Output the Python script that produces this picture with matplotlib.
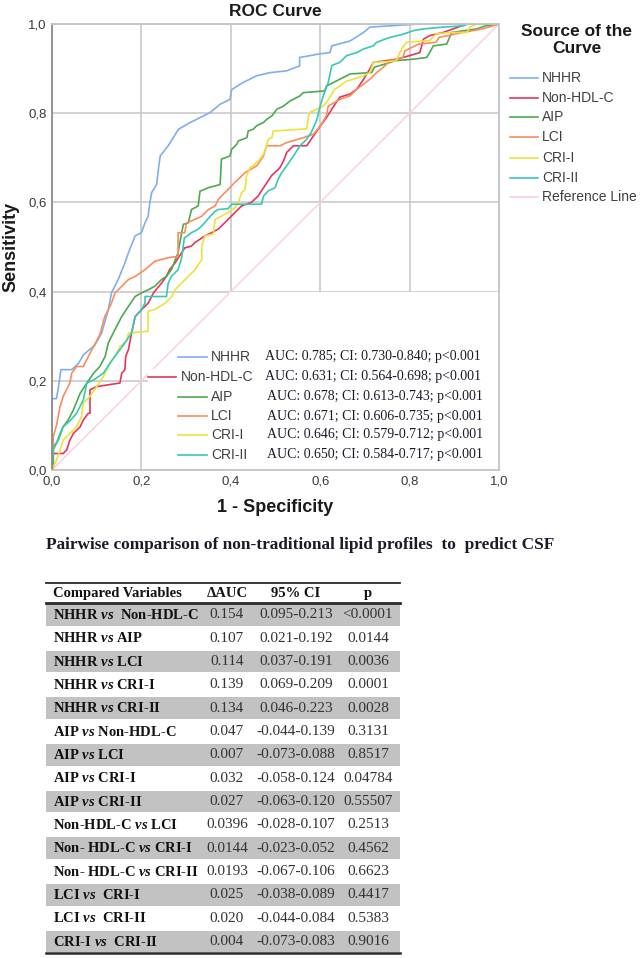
import matplotlib
matplotlib.use("Agg")
import matplotlib.pyplot as plt
from matplotlib.patches import Rectangle

plt.rcParams["font.family"] = ["Liberation Sans", "DejaVu Sans"]
plt.rcParams["mathtext.fontset"] = "custom"
plt.rcParams["mathtext.rm"] = "Liberation Serif:bold"
plt.rcParams["mathtext.bfit"] = "Liberation Serif:italic:bold"
plt.rcParams["mathtext.it"] = "Liberation Serif:italic:bold"

# ---- ROC curves (1 - specificity, sensitivity) ----
NHHR_X = [0, 0, 0.01, 0.015, 0.02, 0.044, 0.06, 0.07, 0.09, 0.096, 0.111, 0.126, 0.133, 0.148,
          0.163, 0.171, 0.186, 0.2, 0.208, 0.215, 0.219, 0.223, 0.234, 0.238, 0.242, 0.26, 0.283,
          0.309, 0.331, 0.353, 0.376, 0.398, 0.402, 0.428, 0.458, 0.488, 0.525, 0.554, 0.554,
          0.599, 0.622, 0.626, 0.667, 0.697, 0.711, 0.82, 1.0]
NHHR_Y = [0, 0.16, 0.16, 0.19, 0.225, 0.225, 0.24, 0.258, 0.275, 0.28, 0.307, 0.359, 0.397, 0.427,
          0.464, 0.487, 0.525, 0.532, 0.554, 0.569, 0.6, 0.622, 0.64, 0.674, 0.704, 0.727, 0.764,
          0.779, 0.79, 0.801, 0.82, 0.831, 0.853, 0.869, 0.884, 0.891, 0.895, 0.906, 0.925,
          0.933, 0.936, 0.951, 0.962, 0.981, 0.993, 1.0, 1.0]

NONHDL_X = [0, 0, 0.025, 0.033, 0.04, 0.048, 0.063, 0.07, 0.081, 0.085, 0.085, 0.1, 0.152, 0.156,
            0.163, 0.165, 0.171, 0.178, 0.186, 0.2, 0.215, 0.227, 0.245, 0.256, 0.263, 0.275, 0.29,
            0.297, 0.312, 0.32, 0.342, 0.357, 0.372, 0.394, 0.409, 0.424, 0.446, 0.461, 0.476,
            0.491, 0.503, 0.51, 0.518, 0.525, 0.54, 0.57, 0.58, 0.6, 0.614, 0.633, 0.644, 0.667,
            0.682, 0.697, 0.711, 0.719, 0.749, 0.77, 0.8, 0.823, 0.831, 0.845, 0.875, 0.917,
            0.928, 1.0]
NONHDL_Y = [0, 0.037, 0.037, 0.045, 0.067, 0.082, 0.097, 0.112, 0.127, 0.127, 0.18, 0.187, 0.195,
            0.217, 0.225, 0.255, 0.27, 0.307, 0.344, 0.359, 0.374, 0.397, 0.419, 0.434, 0.449,
            0.464, 0.487, 0.498, 0.502, 0.51, 0.525, 0.532, 0.54, 0.562, 0.577, 0.592, 0.6, 0.614,
            0.637, 0.66, 0.671, 0.678, 0.693, 0.712, 0.727, 0.727, 0.742, 0.771, 0.79, 0.82,
            0.836, 0.843, 0.854, 0.876, 0.899, 0.914, 0.918, 0.921, 0.929, 0.936, 0.966, 0.974,
            0.981, 0.996, 1.0, 1.0]

AIP_X = [0, 0.003, 0.003, 0.014, 0.025, 0.036, 0.048, 0.063, 0.078, 0.093, 0.107, 0.119, 0.126,
         0.141, 0.156, 0.171, 0.186, 0.2, 0.215, 0.23, 0.245, 0.256, 0.267, 0.282, 0.29, 0.294,
         0.305, 0.312, 0.327, 0.331, 0.35, 0.376, 0.379, 0.398, 0.402, 0.413, 0.417, 0.436, 0.439,
         0.45, 0.458, 0.473, 0.48, 0.492, 0.503, 0.518, 0.532, 0.555, 0.562, 0.61, 0.614, 0.667,
         0.715, 0.721, 0.77, 0.808, 0.838, 0.845, 0.853, 0.883, 0.894, 0.95, 0.97, 1.0]
AIP_Y = [0, 0.007, 0.052, 0.067, 0.097, 0.112, 0.135, 0.172, 0.195, 0.217, 0.232, 0.255, 0.285,
         0.315, 0.344, 0.367, 0.389, 0.397, 0.404, 0.412, 0.427, 0.434, 0.449, 0.487, 0.532, 0.551,
         0.554, 0.584, 0.592, 0.625, 0.633, 0.64, 0.697, 0.704, 0.719, 0.73, 0.738, 0.745, 0.76,
         0.764, 0.772, 0.779, 0.786, 0.794, 0.809, 0.816, 0.827, 0.839, 0.846, 0.85, 0.861, 0.888,
         0.891, 0.903, 0.918, 0.921, 0.925, 0.936, 0.951, 0.955, 0.981, 0.989, 0.996, 1.0]

LCI_X = [0, 0.003, 0.01, 0.018, 0.025, 0.04, 0.044, 0.055, 0.07, 0.081, 0.093, 0.107, 0.118, 0.133,
         0.141, 0.156, 0.171, 0.186, 0.208, 0.23, 0.26, 0.282, 0.282, 0.297, 0.301, 0.32, 0.335,
         0.35, 0.365, 0.372, 0.387, 0.394, 0.409, 0.417, 0.432, 0.458, 0.473, 0.48, 0.51, 0.525,
         0.562, 0.585, 0.6, 0.614, 0.618, 0.644, 0.667, 0.682, 0.697, 0.711, 0.726, 0.741, 0.756,
         0.785, 0.79, 0.82, 0.859, 0.866, 0.919, 0.963, 1.0]
LCI_Y = [0, 0.075, 0.1, 0.142, 0.165, 0.195, 0.217, 0.232, 0.232, 0.254, 0.277, 0.303, 0.344, 0.374,
         0.397, 0.412, 0.427, 0.434, 0.449, 0.468, 0.476, 0.479, 0.532, 0.532, 0.554, 0.562, 0.569,
         0.584, 0.592, 0.607, 0.622, 0.629, 0.645, 0.652, 0.667, 0.682, 0.704, 0.727, 0.727, 0.734,
         0.745, 0.753, 0.771, 0.794, 0.816, 0.831, 0.839, 0.854, 0.865, 0.876, 0.891, 0.903, 0.917,
         0.925, 0.94, 0.955, 0.959, 0.97, 0.981, 0.989, 1.0]

CRI1_X = [0, 0.01, 0.018, 0.025, 0.04, 0.055, 0.066, 0.07, 0.085, 0.1, 0.115, 0.13, 0.145, 0.152,
          0.167, 0.171, 0.215, 0.215, 0.23, 0.253, 0.268, 0.275, 0.29, 0.305, 0.32, 0.335, 0.335,
          0.342, 0.361, 0.365, 0.394, 0.409, 0.417, 0.424, 0.432, 0.435, 0.443, 0.45, 0.465, 0.473,
          0.48, 0.484, 0.492, 0.495, 0.57, 0.574, 0.577, 0.592, 0.607, 0.614, 0.633, 0.644, 0.659,
          0.674, 0.697, 0.711, 0.719, 0.77, 0.782, 0.793, 0.845, 0.86, 0.89, 0.928, 0.935, 0.95, 1.0]
CRI1_Y = [0, 0.022, 0.045, 0.067, 0.082, 0.097, 0.12, 0.15, 0.165, 0.187, 0.21, 0.24, 0.262, 0.277,
          0.289, 0.307, 0.311, 0.356, 0.36, 0.374, 0.389, 0.404, 0.419, 0.434, 0.449, 0.472, 0.502,
          0.525, 0.529, 0.562, 0.577, 0.588, 0.6, 0.622, 0.629, 0.659, 0.678, 0.682, 0.697, 0.708,
          0.727, 0.742, 0.745, 0.76, 0.765, 0.794, 0.802, 0.809, 0.816, 0.824, 0.854, 0.861, 0.872,
          0.876, 0.884, 0.891, 0.914, 0.917, 0.944, 0.959, 0.963, 0.978, 0.981, 0.981, 0.993, 1.0, 1.0]

CRI2_X = [0, 0, 0.003, 0.01, 0.018, 0.025, 0.04, 0.055, 0.07, 0.078, 0.093, 0.115, 0.13, 0.141,
          0.152, 0.163, 0.178, 0.186, 0.2, 0.208, 0.208, 0.256, 0.26, 0.267, 0.282, 0.29, 0.296,
          0.312, 0.327, 0.335, 0.354, 0.365, 0.372, 0.394, 0.402, 0.469, 0.473, 0.484, 0.499, 0.506,
          0.514, 0.525, 0.54, 0.555, 0.57, 0.58, 0.592, 0.6, 0.607, 0.618, 0.626, 0.644, 0.659,
          0.682, 0.697, 0.719, 0.726, 0.756, 0.785, 0.808, 0.831, 0.876, 0.92, 0.93, 1.0]
CRI2_Y = [0, 0.015, 0.045, 0.06, 0.082, 0.097, 0.11, 0.127, 0.157, 0.195, 0.202, 0.217, 0.24, 0.255,
          0.27, 0.285, 0.307, 0.344, 0.359, 0.374, 0.389, 0.389, 0.419, 0.434, 0.449, 0.475, 0.52,
          0.532, 0.54, 0.547, 0.569, 0.58, 0.584, 0.586, 0.596, 0.596, 0.614, 0.626, 0.633, 0.652,
          0.667, 0.682, 0.704, 0.727, 0.742, 0.757, 0.784, 0.816, 0.839, 0.869, 0.907, 0.914, 0.929,
          0.936, 0.944, 0.951, 0.959, 0.97, 0.977, 0.985, 0.989, 0.993, 0.996, 1.0, 1.0]

CURVES = ["NHHR", "Non-HDL-C", "AIP", "LCI", "CRI-I", "CRI-II"]
CURVE_X = [NHHR_X, NONHDL_X, AIP_X, LCI_X, CRI1_X, CRI2_X]
CURVE_Y = [NHHR_Y, NONHDL_Y, AIP_Y, LCI_Y, CRI1_Y, CRI2_Y]
COLORS = ["#7eaef2", "#e8345c", "#4ea94e", "#fb8c5c", "#ece23a", "#36c9b6"]
REF_COLOR = "#fdd0dc"

AUC_TEXT = [
    "AUC: 0.785; CI: 0.730-0.840; p<0.001",
    "AUC: 0.631; CI: 0.564-0.698; p<0.001",
    "AUC: 0.678; CI: 0.613-0.743; p<0.001",
    "AUC: 0.671; CI: 0.606-0.735; p<0.001",
    "AUC: 0.646; CI: 0.579-0.712; p<0.001",
    "AUC: 0.650; CI: 0.584-0.717; p<0.001",
]

# ---- pairwise comparison table ----
HEADER = ["Compared Variables", "\u0394AUC", "95% CI", "p"]
PAIRS = [
    r"NHHR $\mathbfit{vs}$  Non-HDL-C", r"NHHR $\mathbfit{vs}$ AIP", r"NHHR $\mathbfit{vs}$ LCI",
    r"NHHR $\mathbfit{vs}$ CRI-I", r"NHHR $\mathbfit{vs}$ CRI-II", r"AIP $\mathbfit{vs}$ Non-HDL-C",
    r"AIP $\mathbfit{vs}$ LCI", r"AIP $\mathbfit{vs}$ CRI-I", r"AIP $\mathbfit{vs}$ CRI-II",
    r"Non-HDL-C $\mathbfit{vs}$ LCI", r"Non- HDL-C $\mathbfit{vs}$ CRI-I",
    r"Non- HDL-C $\mathbfit{vs}$ CRI-II", r"LCI $\mathbfit{vs}$  CRI-I",
    r"LCI $\mathbfit{vs}$  CRI-II", r"CRI-I $\mathbfit{vs}$  CRI-II",
]
DELTA_AUC = ["0.154", "0.107", "0.114", "0.139", "0.134", "0.047", "0.007", "0.032", "0.027",
             "0.0396", "0.0144", "0.0193", "0.025", "0.020", "0.004"]
CI95 = ["0.095-0.213", "0.021-0.192", "0.037-0.191", "0.069-0.209", "0.046-0.223",
        "-0.044-0.139", "-0.073-0.088", "-0.058-0.124", "-0.063-0.120", "-0.028-0.107",
        "-0.023-0.052", "-0.067-0.106", "-0.038-0.089", "-0.044-0.084", "-0.073-0.083"]
P_VALUES = ["<0.0001", "0.0144", "0.0036", "0.0001", "0.0028", "0.3131", "0.8517", "0.04784",
            "0.55507", "0.2513", "0.4562", "0.6623", "0.4417", "0.5383", "0.9016"]

W, H = 644, 958
fig = plt.figure(figsize=(W / 100, H / 100), dpi=100)

# ROC axes
ax = fig.add_axes([52 / W, 1 - 470 / H, 447 / W, 446 / H])
ax.set_xlim(0, 1)
ax.set_ylim(0, 1)
ticks = [0, 0.2, 0.4, 0.6, 0.8, 1.0]
ax.set_xticks(ticks)
ax.set_yticks(ticks)
ax.set_xticklabels([f"{t:.1f}".replace(".", ",") for t in ticks])
ax.set_yticklabels([f"{t:.1f}".replace(".", ",") for t in ticks])
ax.tick_params(length=0, labelsize=9.5, colors="#3a3a3a", pad=4)
ax.grid(color="#c9c9c9", linewidth=1.2)
ax.set_axisbelow(True)
for side, sp in ax.spines.items():
    sp.set_color("#8c8c8c" if side == "left" else "#c4c4c4")
    sp.set_linewidth(1.3)
    sp.set_zorder(4)

ax.plot([0, 1], [0, 1], color=REF_COLOR, linewidth=1.1, zorder=1.1)
for xs, ys, c in zip(CURVE_X, CURVE_Y, COLORS):
    ax.plot(xs, ys, color=c, linewidth=1.2, zorder=2)

# white panel holding the AUC annotations
ax.add_patch(Rectangle((0.395, 0.0), 0.605, 0.399, facecolor="white", edgecolor="none",
                       zorder=1.5))
rows_y = [0.254, 0.209, 0.164, 0.121, 0.079, 0.034]
for i, (name, c, txt) in enumerate(zip(CURVES, COLORS, AUC_TEXT)):
    y = rows_y[i]
    if name == "Non-HDL-C":
        h0, h1, lx = 0.215, 0.277, 0.289
    else:
        h0, h1, lx = 0.282, 0.347, 0.356
    ax.add_patch(Rectangle((h0, y - 0.018), 0.474 - h0, 0.036, facecolor="white",
                           edgecolor="none", zorder=1.6))
    ax.plot([h0, h1], [y, y], color=c, linewidth=1.2, zorder=3)
    ax.text(lx, y, name, fontsize=10, color="#404040", va="center", ha="left", zorder=3)
    ax.text(0.477 if i < 2 else 0.482, y, txt, fontsize=10, family="Liberation Serif",
            color="#1a1a2a", va="center", ha="left", zorder=3)

ax.set_title("ROC Curve", fontsize=12.5, fontweight="bold", color="#1a1a1a", pad=6)
ax.set_xlabel("1 - Specificity", fontsize=13, fontweight="bold", color="#1a1a1a", labelpad=8)
ax.set_ylabel("Sensitivity", fontsize=13, fontweight="bold", color="#1a1a1a", labelpad=6)

# overlay in pixel coordinates for legend and table
ov = fig.add_axes([0, 0, 1, 1])
ov.set_xlim(0, W)
ov.set_ylim(H, 0)
ov.axis("off")
ov.patch.set_alpha(0)

ov.text(577, 40, "Source of the\nCurve", fontsize=12.5, fontweight="bold", ha="center",
        va="center", color="#1a1a1a", linespacing=1.1)
leg_y = [78, 97.5, 117, 137, 157.5, 178, 197]
for name, c, y in zip(CURVES + ["Reference Line"], COLORS + [REF_COLOR], leg_y):
    ov.plot([510, 538], [y, y], color=c, linewidth=1.2)
    ov.text(542, y, name, fontsize=10, color="#404040", va="center", ha="left")

ov.text(300, 545, "Pairwise comparison of non-traditional lipid profiles  to  predict CSF",
        fontsize=12.4, fontweight="bold", family="Liberation Serif", ha="center", va="center",
        color="#1a1a2a")

# table
tl, tr = 46, 400
row_h = 23.33
top = 603.3
for i in range(len(PAIRS)):
    if i % 2 == 0:
        ov.add_patch(Rectangle((tl, top + i * row_h + 0.8), tr - tl, row_h - 1.6,
                               facecolor="#c2c2c2", edgecolor="none"))
ov.plot([tl, tr], [583, 583], color="#2a2a2a", linewidth=1.3)
ov.plot([tl, tr], [top, top], color="#2a2a2a", linewidth=2.0)
ov.plot([tl, tr], [top + len(PAIRS) * row_h, top + len(PAIRS) * row_h], color="#2a2a2a",
        linewidth=1.8)

col_c = [None, 227, 296, 368]
hy = 593.5
ov.text(53, hy, HEADER[0], fontsize=10.5, fontweight="bold", family="Liberation Serif",
        ha="left", va="center", color="#111111")
for j in range(1, 4):
    ov.text(col_c[j], hy, HEADER[j], fontsize=10.5, fontweight="bold",
            family="Liberation Serif", ha="center", va="center", color="#111111")

for i in range(len(PAIRS)):
    y = top + (i + 0.5) * row_h
    ov.text(53, y, PAIRS[i], fontsize=10.5, fontweight="bold", family="Liberation Serif",
            ha="left", va="center", color="#111111")
    for j, val in zip(range(1, 4), (DELTA_AUC[i], CI95[i], P_VALUES[i])):
        ov.text(col_c[j], y, val, fontsize=11, family="Liberation Serif", ha="center",
                va="center", color="#333333")

fig.savefig("out.png", dpi=100)
